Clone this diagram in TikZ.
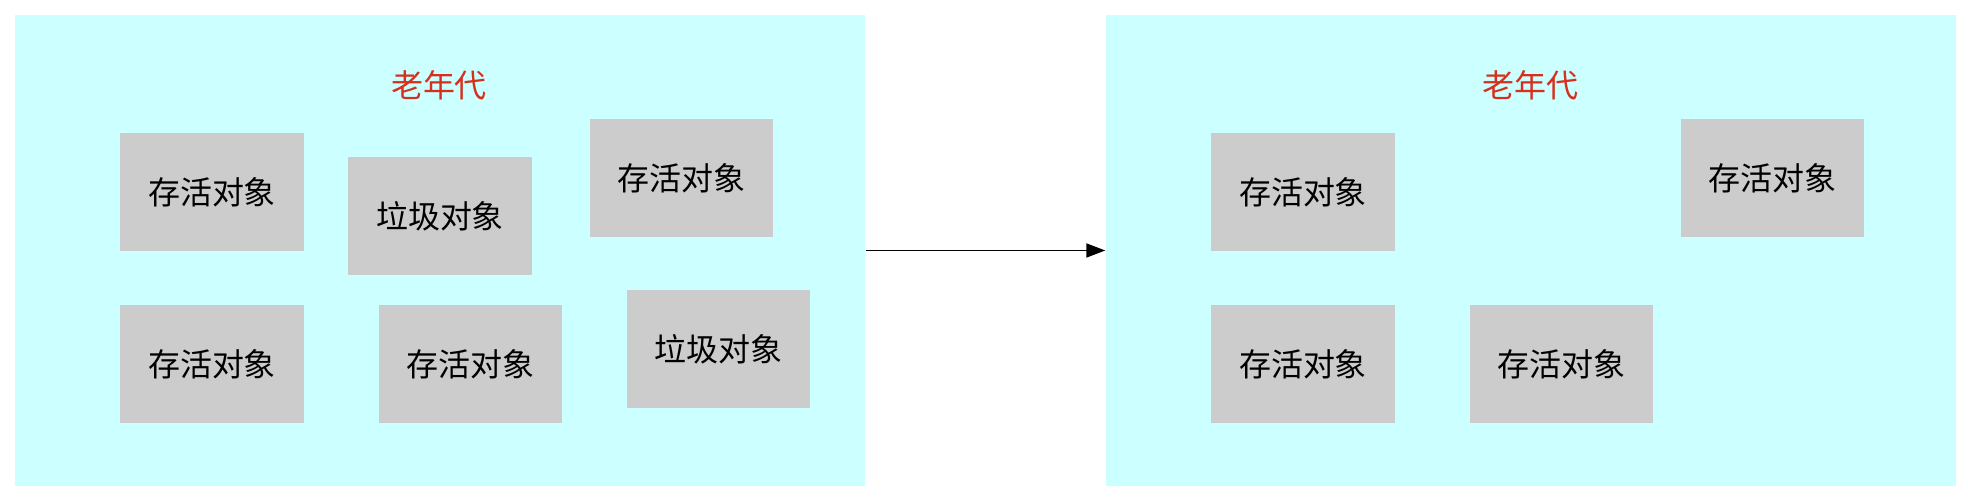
\documentclass[tikz,border=0pt]{standalone}
\usepackage{fontspec}
\usepackage{xcolor}
\usepackage{tikz}
\usetikzlibrary{arrows.meta,positioning}
\setmainfont{Noto Sans CJK SC}
\definecolor{PanelCyan}{RGB}{204, 255, 255}
\definecolor{ObjGray}{RGB}{204, 204, 204}
\definecolor{TitleRed}{RGB}{214, 48, 28}

\begin{document}
\begin{tikzpicture}[
    panel/.style={fill=PanelCyan, minimum width=8.5cm, minimum height=4.71cm, inner sep=0pt},
    objbox/.style={fill=ObjGray, minimum width=1.835cm, minimum height=1.187cm, inner sep=0pt,
        font=\fontsize{9.1}{11}\selectfont},
    gentitle/.style={text=TitleRed, font=\fontsize{9.1}{11}\selectfont}
]
    \useasboundingbox (0,0) rectangle (19.68,4.97);
    % before collection
    \node[panel] (oldA) at (4.40,2.465) {};
    \node[gentitle] (titleA) at (4.39,4.12) {老年代};
    \node[objbox] (liveA1) at (2.12,3.05) {存活对象};
    \node[objbox] (deadA1) at (4.40,2.81) {垃圾对象};
    \node[objbox] (liveA2) at (6.815,3.19) {存活对象};
    \node[objbox] (liveA3) at (2.12,1.33) {存活对象};
    \node[objbox] (liveA4) at (4.705,1.33) {存活对象};
    \node[objbox] (deadA2) at (7.185,1.48) {垃圾对象};
    % after collection
    \begin{scope}[xshift=10.91cm]
        \node[panel] (oldB) at (4.40,2.465) {};
        \node[gentitle] (titleB) at (4.39,4.12) {老年代};
        \node[objbox] (liveB1) at (2.12,3.05) {存活对象};
        \node[objbox] (liveB2) at (6.815,3.19) {存活对象};
        \node[objbox] (liveB3) at (2.12,1.33) {存活对象};
        \node[objbox] (liveB4) at (4.705,1.33) {存活对象};
    \end{scope}
    \draw[-{Triangle[length=0.19cm, width=0.14cm]}, line width=0.5pt] (oldA.east) -- (oldB.west);
\end{tikzpicture}
\end{document}
